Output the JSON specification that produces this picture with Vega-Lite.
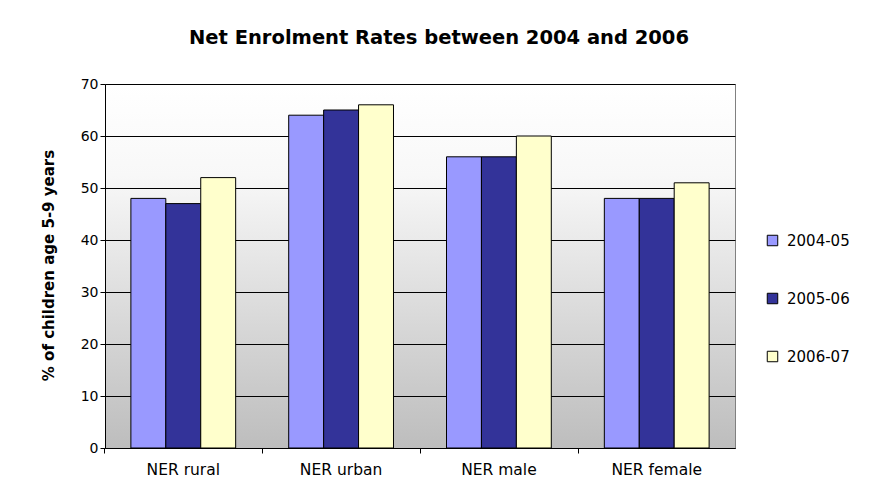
{
  "$schema": "https://vega.github.io/schema/vega-lite/v6.json",
  "autosize": "none",
  "width": 630,
  "height": 364,
  "padding": {"left": 105, "top": 84, "right": 145, "bottom": 54},
  "background": "white",
  "title": {
    "text": "Net Enrolment Rates between 2004 and 2006",
    "font": "DejaVu Sans",
    "fontSize": 19.5,
    "fontWeight": "bold",
    "color": "black",
    "anchor": "middle",
    "frame": "group",
    "dx": 19,
    "offset": 29
  },
  "data": {
    "values": [
      {"category": "NER rural", "year": "2004-05", "rate": 48},
      {"category": "NER rural", "year": "2005-06", "rate": 47},
      {"category": "NER rural", "year": "2006-07", "rate": 52},
      {"category": "NER urban", "year": "2004-05", "rate": 64},
      {"category": "NER urban", "year": "2005-06", "rate": 65},
      {"category": "NER urban", "year": "2006-07", "rate": 66},
      {"category": "NER male", "year": "2004-05", "rate": 56},
      {"category": "NER male", "year": "2005-06", "rate": 56},
      {"category": "NER male", "year": "2006-07", "rate": 60},
      {"category": "NER female", "year": "2004-05", "rate": 48},
      {"category": "NER female", "year": "2005-06", "rate": 48},
      {"category": "NER female", "year": "2006-07", "rate": 51}
    ]
  },
  "mark": {"type": "bar", "stroke": "black", "strokeWidth": 1},
  "encoding": {
    "x": {
      "field": "category",
      "type": "nominal",
      "sort": ["NER rural", "NER urban", "NER male", "NER female"],
      "scale": {"paddingInner": 0.336, "paddingOuter": 0.164},
      "axis": {
        "title": null,
        "labelAngle": 0,
        "bandPosition": -0.247,
        "tickSize": 5,
        "tickColor": "black",
        "domainColor": "black",
        "labelPadding": 9,
        "labelFont": "DejaVu Sans",
        "labelFontSize": 15.5,
        "labelColor": "black",
        "grid": false
      }
    },
    "xOffset": {
      "field": "year",
      "type": "nominal",
      "scale": {"paddingInner": 0, "paddingOuter": 0}
    },
    "y": {
      "field": "rate",
      "type": "quantitative",
      "scale": {"domain": [0, 70], "nice": false},
      "axis": {
        "title": "% of children age 5-9 years",
        "titleFont": "DejaVu Sans",
        "titleFontSize": 15,
        "titleFontWeight": "bold",
        "titleColor": "black",
        "titleX": -57,
        "titleY": 181,
        "titleAngle": -90,
        "titleAlign": "center",
        "titleBaseline": "middle",
        "values": [0, 10, 20, 30, 40, 50, 60, 70],
        "grid": true,
        "gridColor": "black",
        "gridOpacity": 1,
        "gridWidth": 1,
        "tickSize": 5,
        "tickColor": "black",
        "domainColor": "black",
        "labelPadding": 2,
        "labelFont": "DejaVu Sans",
        "labelFontSize": 14,
        "labelColor": "black"
      }
    },
    "color": {
      "field": "year",
      "type": "nominal",
      "scale": {
        "domain": ["2004-05", "2005-06", "2006-07"],
        "range": ["#9999FF", "#333399", "#FFFFCC"]
      },
      "legend": {
        "title": null,
        "orient": "none",
        "legendX": 660,
        "legendY": 149,
        "symbolType": "square",
        "symbolSize": 110,
        "symbolStrokeColor": "black",
        "symbolStrokeWidth": 1,
        "symbolOpacity": 1,
        "rowPadding": 42,
        "labelFont": "DejaVu Sans",
        "labelFontSize": 15,
        "labelColor": "black",
        "labelOffset": 7
      }
    }
  },
  "config": {
    "view": {
      "stroke": "#808080",
      "fill": {
        "gradient": "linear",
        "x1": 0, "y1": 0, "x2": 0, "y2": 1,
        "stops": [
          {"offset": 0, "color": "#ffffff"},
          {"offset": 0.25, "color": "#f8f8f8"},
          {"offset": 1, "color": "#bdbdbd"}
        ]
      }
    }
  }
}
